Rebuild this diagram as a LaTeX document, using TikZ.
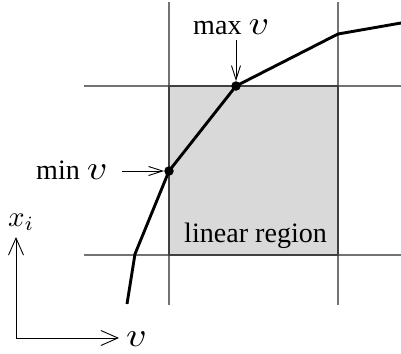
\documentclass[tikz,border=0pt]{standalone}
\usepackage{fontspec}
\setmainfont{Liberation Serif}
\usetikzlibrary{arrows.meta}
\newcommand{\vsym}{\scalebox{4.0}[3.4]{\normalsize$v$}}
\begin{document}
\begin{tikzpicture}[x=1bp,y=-1bp,
  font=\fontsize{28.2}{30}\selectfont,
  gridline/.style={draw=black!55, line width=1.1bp},
  boxline/.style={draw=black!75, line width=1.2bp},
  curve/.style={draw=black, line width=2.9bp, line join=miter},
  dot/.style={circle, fill=black, inner sep=0pt, minimum size=9.5bp},
  arr/.style={-{Straight Barb[length=14bp,width=9bp]}, line width=0.9bp},
  axarr/.style={-{Straight Barb[length=17bp,width=15bp]}, line width=0.9bp},
  lbl/.style={inner sep=0pt}]
\useasboundingbox (0,0) rectangle (401,354);
% linear region
\fill[black!15] (169,86) rectangle (338,255);
\draw[gridline] (169,2) -- (169,305);
\draw[gridline] (338,2) -- (338,305);
\draw[gridline] (84,86) -- (401,86);
\draw[gridline] (84,255) -- (401,255);
\draw[boxline] (169,86) rectangle (338,255);
% curve
\draw[curve] (127,304) -- (135,254) -- (169,171) -- (236,86) -- (338,34) -- (401,23);
\node[dot] (dmin) at (169,171) {};
\node[dot] (dmax) at (236,86) {};
% labels
\node[lbl, anchor=base west] (maxl) at (193,34) {max \vsym};
\coordinate (maxs) at (236,40);
\draw[arr] (maxs) -- (dmax.north);
\node[lbl, anchor=base west] (minl) at (36,179) {min \vsym};
\coordinate (mins) at (122,171);
\draw[arr] (mins) -- (dmin.west);
\node[lbl, anchor=base west] (lin) at (184,242) {linear region};
% axes
\coordinate (o) at (16,338);
\coordinate (yt) at (16,237);
\coordinate (xt) at (119,338);
\draw[axarr] (o) -- (yt);
\draw[axarr] (o) -- (xt);
\node[lbl, anchor=base west] (xl) at (8,226) {\scalebox{2.9}{\normalsize$x_i$}};
\node[lbl, anchor=base west] (vl) at (126,346) {\vsym};
\end{tikzpicture}
\end{document}
